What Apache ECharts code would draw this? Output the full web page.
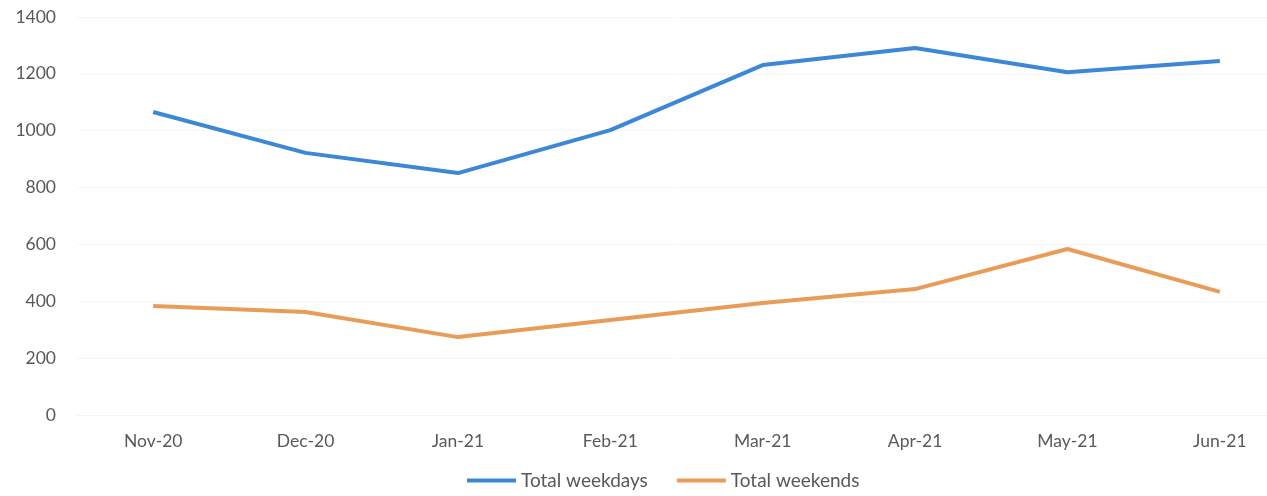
<!DOCTYPE html>
<html>
<head>
<meta charset="utf-8">
<script src="https://cdn.jsdelivr.net/npm/echarts@6/dist/echarts.min.js"></script>
<style>
  html, body { margin: 0; padding: 0; background: #fff; }
  #chart { width: 1267px; height: 496px; }
</style>
</head>
<body>
<div id="chart"></div>
<script>
// values
var months = ['Nov-20', 'Dec-20', 'Jan-21', 'Feb-21', 'Mar-21', 'Apr-21', 'May-21', 'Jun-21'];
var weekdays = [1066, 922, 851, 1002, 1231, 1291, 1206, 1245];
var weekends = [383, 362, 274, 334, 394, 443, 584, 433];
var yTicks = { min: 0, max: 1400, step: 200 };

var font = 'Lato, "Open Sans", sans-serif';
var textColor = '#595959';

var myChart = echarts.init(document.getElementById('chart'));

myChart.setOption({
  animation: false,
  // the scan is cropped on the right, so the plot runs past the edge
  grid: { left: 77, width: 1219, top: 17, bottom: 81, outerBoundsMode: 'none' },
  legend: {
    bottom: 1,
    left: 462,
    itemWidth: 49,
    itemHeight: 4,
    itemGap: 29,
    icon: 'rect',
    textStyle: { fontFamily: font, fontSize: 19, color: textColor },
    data: ['Total weekdays', 'Total weekends']
  },
  xAxis: {
    type: 'category',
    data: months,
    boundaryGap: true,
    axisLine: { lineStyle: { color: '#f2f4f6' } },
    axisTick: { show: false },
    axisLabel: { fontFamily: font, fontSize: 17.5, color: textColor, margin: 17 }
  },
  yAxis: {
    type: 'value',
    min: yTicks.min,
    max: yTicks.max,
    interval: yTicks.step,
    axisLine: { show: false },
    axisTick: { show: false },
    axisLabel: {
      fontFamily: font, fontSize: 17.5, color: textColor, margin: 21,
      formatter: function (v) { return String(v); }
    },
    splitLine: { lineStyle: { color: '#f4f6f8' } }
  },
  series: [
    {
      name: 'Total weekdays',
      type: 'line',
      data: weekdays,
      symbol: 'none',
      lineStyle: { width: 4, color: '#3c87d6' },
      itemStyle: { color: '#3c87d6' }
    },
    {
      name: 'Total weekends',
      type: 'line',
      data: weekends,
      symbol: 'none',
      lineStyle: { width: 4, color: '#e99c58' },
      itemStyle: { color: '#e99c58' }
    }
  ]
});
</script>
</body>
</html>
